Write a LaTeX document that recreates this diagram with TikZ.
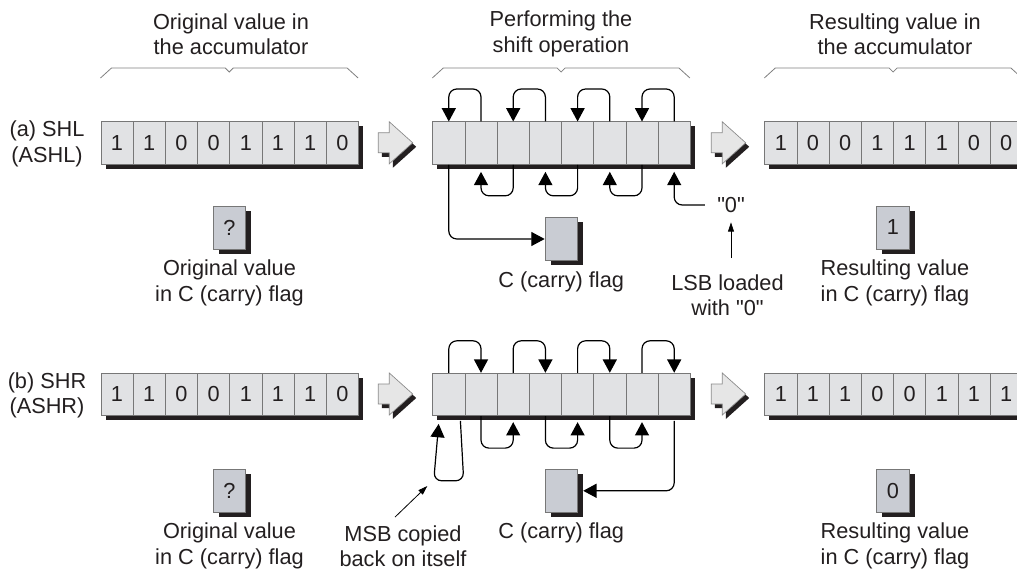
\documentclass[tikz,border=0pt]{standalone}
\usepackage{fontspec}
\setmainfont{Liberation Sans}
\usetikzlibrary{arrows.meta,calc}
\definecolor{cellfill}{HTML}{E1E2E4}
\definecolor{flagfill}{HTML}{C9CCD3}
\definecolor{cellline}{HTML}{777777}
\definecolor{shadowc}{HTML}{231F20}
\definecolor{textc}{HTML}{231F20}
\definecolor{arrowfill}{HTML}{E6E6E6}
\definecolor{arrowline}{HTML}{8A8A8A}
\newcommand\lblfont{\fontsize{16.3pt}{19pt}\selectfont}
\newcommand\qq{\textquotedbl}
\newcommand\myreg[4]{%
  \fill[shadowc] (#2+5,#3+5) rectangle (#2+262.6,#3+47.5);
  \foreach \d [count=\i] in {#4}{\node[cell] (#1-\i) at ({#2+(\i-1)*32.2},#3) {\d};}
}
\newcommand\myflag[4]{%
  \fill[shadowc] (#2-16.15+5.5,#3+5) rectangle (#2+16.15+5.5,#3+48);
  \node[flag] (#1) at (#2,#3+21.5) {#4};
}
\newcommand\bigarrow[2]{%
  \fill[shadowc,shift={(#1+3.5,#2+4)}] (0,-10) -- (11,-10) -- (11,-21) -- (34.4,0) -- (11,21) -- (11,10) -- (0,10) -- cycle;
  \filldraw[fill=arrowfill,draw=arrowline,line width=0.5pt,shift={(#1,#2)}] (0,-10) -- (11,-10) -- (11,-21) -- (34.4,0) -- (11,21) -- (11,10) -- (0,10) -- cycle;
}
\newcommand\mybrace[1]{%
  \draw[brace] (#1,78) -- (#1+11,68) -- (#1+124.8,68) -- (#1+128.8,72) -- (#1+132.8,68) -- (#1+246.6,68) -- (#1+257.6,78);
}
\begin{document}
\begin{tikzpicture}[x=0.75pt,y=-0.75pt,
  cell/.style={draw=cellline,fill=cellfill,line width=0.6pt,minimum width=24.15pt,minimum height=31.9pt,inner sep=0pt,anchor=north west,font=\lblfont,text=textc},
  flag/.style={draw=cellline,fill=flagfill,line width=0.6pt,minimum width=24.2pt,minimum height=32.25pt,inner sep=0pt,font=\lblfont,text=textc},
  conn/.style={line width=0.9pt,rounded corners=6pt,-{Triangle[width=10.5pt,length=10pt]}},
  ptr/.style={line width=0.6pt,-{Triangle[width=4.5pt,length=7pt]}},
  lbl/.style={align=center,font=\lblfont,text=textc,inner sep=0pt},
  brace/.style={draw=gray,line width=0.6pt}]
\useasboundingbox (0,0) rectangle (1017,570);
\fill[white] (0,0) rectangle (1017,570);

% headers
\node[lbl] (h1) at (231,34) {Original value in\\the accumulator};
\node[lbl] (h2) at (561,34) {Performing the\\shift operation};
\node[lbl] (h3) at (895,34) {Resulting value in\\the accumulator};
\mybrace{100.5}
\mybrace{432.3}
\mybrace{764.3}

% row labels
\node[lbl] (la) at (47,144) {(a) SHL\\(ASHL)};
\node[lbl] (lb) at (47,395.5) {(b) SHR\\(ASHR)};

% registers row a
\myreg{Oa}{100.5}{121.5}{1,1,0,0,1,1,1,0}
\myreg{Ma}{432.3}{121.5}{{},{},{},{},{},{},{},{}}
\myreg{Ra}{764.3}{121.5}{1,0,0,1,1,1,0,0}
% registers row b
\myreg{Ob}{100.5}{372.8}{1,1,0,0,1,1,1,0}
\myreg{Mb}{432.3}{372.8}{{},{},{},{},{},{},{},{}}
\myreg{Rb}{764.3}{372.8}{1,1,1,0,0,1,1,1}

% big arrows
\bigarrow{378.3}{142.8}
\bigarrow{711.3}{142.8}
\bigarrow{378.3}{394}
\bigarrow{711.3}{394}

% flags row a
\myflag{Fa1}{229.5}{206}{?}
\myflag{Fa2}{561.2}{217.5}{}
\myflag{Fa3}{893}{206}{1}
% flags row b
\myflag{Fb1}{229.5}{469.3}{?}
\myflag{Fb2}{561.2}{469.3}{}
\myflag{Fb3}{893}{469.3}{0}

% labels row a
\node[lbl] (ta1) at (229.5,283) {Original value\\in C (carry) flag};
\node[lbl] (ta2) at (561.2,281.7) {C (carry) flag};
\node[lbl] (ta3) at (727.5,295) {LSB loaded\\with \qq0\qq};
\node[lbl] (ta4) at (895,283) {Resulting value\\in C (carry) flag};
\node[lbl] (zero) at (731,205) {\qq0\qq};
% labels row b
\node[lbl] (tb1) at (229.5,546) {Original value\\in C (carry) flag};
\node[lbl] (tb2) at (561.2,533.3) {C (carry) flag};
\node[lbl] (tb3) at (403,546) {MSB copied\\back on itself};
\node[lbl] (tb4) at (895,546) {Resulting value\\in C (carry) flag};

% row a shift connectors
\foreach \a/\b in {2/1,4/3,6/5,8/7}{
  \draw[conn] (Ma-\a.north) -- ++(0,-32.5) -| (Ma-\b.north);
}
\foreach \a/\b in {3/2,5/4,7/6}{
  \draw[conn] (Ma-\a.south) -- ++(0,31) -| ([yshift=-5.25pt]Ma-\b.south);
}
\draw[conn] (Ma-1.south) |- (Fa2.west);
\draw[conn] ([xshift=-9pt]zero.west) -| ([yshift=-5.25pt]Ma-8.south);
\draw[ptr] ([yshift=12pt]ta3.north -| zero.south) -- ([yshift=-7pt]zero.south);

% row b shift connectors
\foreach \a/\b in {1/2,3/4,5/6,7/8}{
  \draw[conn] (Mb-\a.north) -- ++(0,-32) -| (Mb-\b.north);
}
\foreach \a/\b in {2/3,4/5,6/7}{
  \draw[conn] (Mb-\a.south) -- ++(0,32) -| ([yshift=-4.5pt]Mb-\b.south);
}
\draw[conn] ([xshift=8.7pt,yshift=-3.5pt]Mb-1.south) -- ++(3.3,60) -- ++(-30,0) -- ([xshift=-7.6pt,yshift=-5.85pt]Mb-1.south);
\draw[conn] ([yshift=-3.5pt]Mb-8.south) |- ([xshift=4.1pt]Fb2.east);
\coordinate (msbtip) at (427.3,486);
\draw[ptr] ([xshift=-6pt,yshift=6pt]tb3.north) -- (msbtip);
\end{tikzpicture}
\end{document}
